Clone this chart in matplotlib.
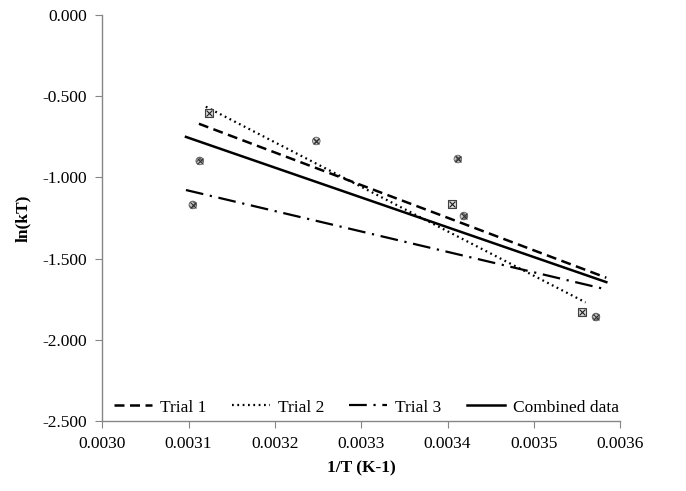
import matplotlib
matplotlib.use('Agg')
from matplotlib import pyplot as plt

# measured points (1/T, ln(kT))
box_x = [0.003124, 0.003405, 0.003556]
box_y = [-0.603, -1.163, -1.830]
circ_x = [0.003105, 0.003113, 0.003248, 0.003412, 0.003419, 0.003572]
circ_y = [-1.170, -0.899, -0.776, -0.887, -1.238, -1.860]

# fitted trend lines (start / end)
trial1_x = [0.003112, 0.003584]
trial1_y = [-0.670, -1.618]
trial2_x = [0.003120, 0.003560]
trial2_y = [-0.565, -1.770]
trial3_x = [0.003097, 0.003584]
trial3_y = [-1.078, -1.690]
comb_x = [0.003097, 0.003584]
comb_y = [-0.751, -1.645]

plt.rcParams['font.family'] = ['Liberation Serif', 'DejaVu Serif']

fig = plt.figure(figsize=(6.86, 4.91), dpi=100)
ax = fig.add_axes([0.149, 0.1426, 0.755, 0.827])

ax.plot(trial1_x, trial1_y, color='black', lw=1.8, dashes=(4, 2.2), label='Trial 1')
ax.plot(trial2_x, trial2_y, color='black', lw=1.6, dashes=(0.8, 1.6), label='Trial 2')
ax.plot(trial3_x, trial3_y, color='black', lw=1.6, dashes=(8, 3, 1, 3), label='Trial 3')
ax.plot(comb_x, comb_y, color='black', lw=1.8, label='Combined data')

ax.scatter(box_x, box_y, marker='s', s=34, facecolor='#d8d8d8', edgecolor='#404040', lw=0.8, zorder=3)
ax.scatter(box_x, box_y, marker='x', s=18, color='#202020', lw=0.8, zorder=4)
ax.scatter(circ_x, circ_y, marker='o', s=30, facecolor='#c8c8c8', edgecolor='#606060',
           hatch='xxxx', lw=0.6, zorder=3)
ax.scatter(circ_x, circ_y, marker='x', s=18, color='#303030', lw=0.8, zorder=4)

ax.set_xlim(0.0030, 0.0036)
ax.set_ylim(-2.5, 0.0)
ax.set_xticks([0.0030, 0.0031, 0.0032, 0.0033, 0.0034, 0.0035, 0.0036])
ax.set_xticklabels(['%.4f' % v for v in ax.get_xticks()])
ax.set_yticks([0.0, -0.5, -1.0, -1.5, -2.0, -2.5])
ax.set_yticklabels(['%.3f' % v for v in ax.get_yticks()])

for s in ['top', 'right']:
    ax.spines[s].set_visible(False)
for s in ['left', 'bottom']:
    ax.spines[s].set_color('#868686')
    ax.spines[s].set_linewidth(1.0)
ax.tick_params(axis='both', direction='out', length=5, color='#868686', labelsize=12.5, pad=6)

ax.set_xlabel('1/T (K-1)', fontsize=12.5, fontweight='bold', labelpad=6)
ax.set_ylabel('ln(kT)', fontsize=12.5, fontweight='bold', labelpad=8)

ax.legend(loc='lower center', ncol=4, frameon=False, fontsize=12.5, handlelength=2.2,
          columnspacing=1.45, handletextpad=0.45, bbox_to_anchor=(0.51, -0.025))

plt.savefig('out.png', dpi=100)
plt.close()
